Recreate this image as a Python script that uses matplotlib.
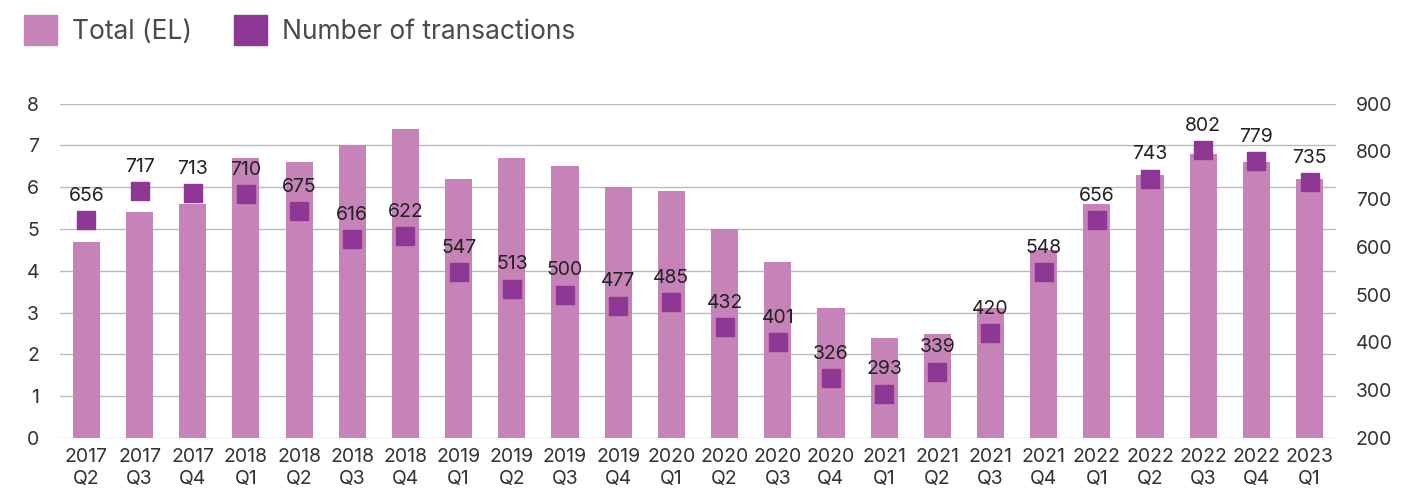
import matplotlib
matplotlib.use("Agg")
import matplotlib.pyplot as plt
from matplotlib.patches import Patch
import numpy as np

plt.rcParams["font.family"] = ["Inter", "DejaVu Sans"]

quarters = [
    "2017\nQ2", "2017\nQ3", "2017\nQ4",
    "2018\nQ1", "2018\nQ2", "2018\nQ3", "2018\nQ4",
    "2019\nQ1", "2019\nQ2", "2019\nQ3", "2019\nQ4",
    "2020\nQ1", "2020\nQ2", "2020\nQ3", "2020\nQ4",
    "2021\nQ1", "2021\nQ2", "2021\nQ3", "2021\nQ4",
    "2022\nQ1", "2022\nQ2", "2022\nQ3", "2022\nQ4",
    "2023\nQ1",
]
total_el = [4.7, 5.4, 5.6, 6.7, 6.6, 7.0, 7.4, 6.2, 6.7, 6.5, 6.0, 5.9,
            5.0, 4.2, 3.1, 2.4, 2.5, 3.1, 4.5, 5.6, 6.3, 6.8, 6.6, 6.2]
transactions = [656, 717, 713, 710, 675, 616, 622, 547, 513, 500, 477, 485,
                432, 401, 326, 293, 339, 420, 548, 656, 743, 802, 779, 735]

BAR_COLOR = "#C583B7"
MARK_COLOR = "#8E3795"
TEXT_COLOR = "#333333"

fig = plt.figure(figsize=(14.23, 4.88), dpi=100)
ax = fig.add_axes([0.042, 0.1025, 0.897, 0.685])
ax2 = ax.twinx()

x = np.arange(len(quarters))
ax.bar(x, total_el, width=0.51, color=BAR_COLOR, zorder=2)
ax.set_ylim(0, 8)
ax.set_yticks(range(0, 9))
ax.set_xlim(-0.5, len(quarters) - 0.5)
ax.set_xticks(x)
ax.set_xticklabels(quarters, linespacing=1.3)
ax.grid(axis="y", color="#BBBBBB", linewidth=1.0, zorder=0)
ax.set_axisbelow(True)

ax2.plot(x, transactions, linestyle="none", marker="s", markersize=12.5,
         color=MARK_COLOR, zorder=3)
ax2.set_ylim(200, 900)
ax2.set_yticks(range(200, 901, 100))
for xi, v in zip(x, transactions):
    ax2.annotate(str(v), (xi, v), xytext=(0, 11), textcoords="offset points",
                 ha="center", va="bottom", fontsize=14, color="#222222")

for a in (ax, ax2):
    for s in a.spines.values():
        s.set_visible(False)
    a.tick_params(length=0, labelsize=14, labelcolor=TEXT_COLOR)
ax.tick_params(axis="y", pad=15)
ax.tick_params(axis="x", pad=7)
ax2.tick_params(axis="y", pad=14)

handles = [Patch(color=BAR_COLOR, label="Total (EL)"),
           Patch(color=MARK_COLOR, label="Number of transactions")]
fig.legend(handles=handles, loc="upper left", bbox_to_anchor=(0.0169, 0.969),
           ncol=2, frameon=False, fontsize=19, labelcolor="#4a4a4a",
           borderaxespad=0, borderpad=0,
           handlelength=1.25, handleheight=1.35, handletextpad=0.57,
           columnspacing=1.6)

fig.savefig("out.png", dpi=100)
